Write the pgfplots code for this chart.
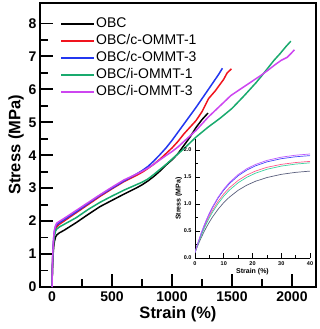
\documentclass[border=0pt]{standalone}
\usepackage{pgfplots}
\pgfplotsset{compat=1.18}
\usepackage{fontspec}
\setmainfont{Liberation Sans}
\definecolor{cblue}{RGB}{35,55,240}
\definecolor{cgreen}{RGB}{25,170,110}
\definecolor{cmag}{RGB}{205,70,240}
\definecolor{cred}{RGB}{240,20,30}
\definecolor{iblack}{RGB}{90,95,125}
\definecolor{ired}{RGB}{255,90,140}
\definecolor{igreen}{RGB}{60,210,160}
\definecolor{iblue}{RGB}{70,70,250}
\definecolor{imag}{RGB}{190,90,255}
\begin{document}
\begin{tikzpicture}
\path[use as bounding box] (-40pt,-42pt) rectangle (279pt,287pt);
\begin{axis}[
  at={(0pt,0pt)}, anchor=south west,
  scale only axis, width=276pt, height=284pt,
  xmin=-100, xmax=2200, ymin=0, ymax=8.62,
  axis line style={line width=1.8pt},
  xtick={0,500,1000,1500,2000},
  minor xtick={250,750,1250,1750},
  ytick={0,1,2,3,4,5,6,7,8},
  minor ytick={0.5,1.5,2.5,3.5,4.5,5.5,6.5,7.5},
  xtick pos=bottom, ytick pos=left,
  tick align=inside,
  major tick length=13pt, minor tick length=8pt,
  every tick/.style={line width=1.8pt, black},
  /pgf/number format/assume math mode=true,
  ticklabel style={font=\bfseries\fontsize{14}{14}\selectfont},
  xticklabel style={yshift=-1pt},
  scaled x ticks=false,
  xticklabel={\pgfmathprintnumber[fixed,precision=0,1000 sep={}]{\tick}},
  xlabel={\bfseries Strain (\%)},
  ylabel={\bfseries Stress (MPa)},
  label style={font=\bfseries\fontsize{16.5}{17}\selectfont},
  xlabel style={yshift=2pt},
  ylabel style={yshift=-2pt},
  legend cell align=left,
  legend style={draw=none, fill=none, at={(0.062,0.962)}, anchor=north west,
    font=\fontsize{14}{14}\selectfont, row sep=1.5pt,
    nodes={inner sep=1pt, text height=10.5pt, text depth=3pt}},
  legend image code/.code={\draw[#1, line width=1.8pt] (0pt,0pt) -- (33pt,0pt);},
  every axis plot/.append style={line width=1.5pt},
]
\addplot[black] coordinates {(0,0) (3,0.47) (6,0.75) (10,1.03) (15,1.25) (20,1.38) (30,1.52) (40,1.58) (60,1.64) (100,1.72) (200,1.95) (300,2.2) (400,2.44) (500,2.63) (600,2.82) (700,3.0) (750,3.1) (800,3.22) (850,3.36) (900,3.52) (950,3.7) (1000,3.86) (1050,4.05) (1100,4.3) (1150,4.55) (1200,4.84) (1250,5.08) (1300,5.28)};
\addlegendentry{OBC}
\addplot[cred] coordinates {(0,0) (3,0.55) (6,0.88) (10,1.19) (15,1.44) (20,1.61) (30,1.76) (40,1.83) (60,1.9) (100,2.0) (200,2.25) (300,2.5) (400,2.75) (500,2.98) (600,3.2) (700,3.38) (750,3.48) (800,3.6) (850,3.73) (900,3.88) (950,4.05) (1000,4.22) (1050,4.42) (1100,4.65) (1150,4.85) (1200,5.05) (1250,5.32) (1305,5.72) (1360,5.95) (1430,6.3) (1460,6.5) (1495,6.62)};
\addlegendentry{OBC/c-OMMT-1}
\addplot[cblue] coordinates {(0,0) (3,0.57) (6,0.93) (10,1.26) (15,1.52) (20,1.69) (30,1.84) (40,1.89) (60,1.95) (100,2.04) (200,2.28) (300,2.53) (400,2.78) (500,3.0) (600,3.22) (700,3.42) (750,3.53) (800,3.66) (850,3.83) (900,4.02) (950,4.22) (1000,4.45) (1050,4.7) (1100,4.95) (1200,5.45) (1300,5.98) (1390,6.46) (1420,6.64)};
\addlegendentry{OBC/c-OMMT-3}
\addplot[cgreen] coordinates {(0,0) (3,0.52) (6,0.84) (10,1.14) (15,1.39) (20,1.55) (30,1.70) (40,1.76) (60,1.82) (100,1.9) (200,2.1) (300,2.35) (400,2.57) (500,2.76) (600,2.94) (700,3.1) (750,3.18) (800,3.28) (850,3.42) (900,3.57) (950,3.72) (1000,3.88) (1050,4.04) (1100,4.2) (1200,4.55) (1300,4.85) (1400,5.12) (1450,5.27) (1500,5.42) (1600,5.8) (1700,6.2) (1750,6.42) (1800,6.65) (1850,6.88) (1900,7.08) (1950,7.3) (1990,7.46)};
\addlegendentry{OBC/i-OMMT-1}
\addplot[cmag] coordinates {(0,0) (3,0.58) (6,0.94) (10,1.28) (15,1.55) (20,1.73) (30,1.87) (40,1.94) (60,1.99) (100,2.08) (200,2.32) (300,2.56) (400,2.8) (500,3.03) (600,3.25) (700,3.42) (750,3.51) (800,3.61) (850,3.73) (900,3.86) (950,3.99) (1000,4.11) (1050,4.25) (1100,4.42) (1200,4.75) (1300,5.15) (1430,5.6) (1490,5.81) (1600,6.08) (1740,6.42) (1800,6.58) (1860,6.75) (1910,6.88) (1960,6.97) (1990,7.08) (2020,7.2)};
\addlegendentry{OBC/i-OMMT-3}
\end{axis}
\begin{axis}[
  at={(155pt,29pt)}, anchor=south west,
  scale only axis, width=115pt, height=118.8pt,
  xmin=0, xmax=40, ymin=0, ymax=2.2,
  axis x line*=bottom, axis y line*=left,
  axis line style={line width=0.8pt, -},
  xtick={0,10,20,30,40}, minor xtick={5,15,25,35},
  ytick={0,0.5,1,1.5,2}, minor ytick={0.25,0.75,1.25,1.75},
  tick align=inside,
  major tick length=4.5pt, minor tick length=2.5pt,
  every tick/.style={line width=0.7pt, black},
  /pgf/number format/assume math mode=true,
  ticklabel style={font=\bfseries\fontsize{5.5}{6}\selectfont},
  yticklabel style={/pgf/number format/.cd, fixed, fixed zerofill, precision=1},
  xlabel={\bfseries Strain (\%)},
  ylabel={\bfseries Stress (MPa)},
  label style={font=\bfseries\fontsize{7}{7}\selectfont},
  xlabel style={yshift=4pt},
  ylabel style={yshift=-5pt},
  every axis plot/.append style={line width=0.7pt},
]
\addplot[iblack] coordinates {(0,0.1) (1,0.235) (2,0.358) (3,0.470) (4,0.573) (5,0.666) (6,0.752) (8,0.901) (10,1.026) (12,1.129) (15,1.254) (18,1.348) (21,1.420) (25,1.490) (30,1.549) (35,1.586) (40,1.609)};
\addplot[ired] coordinates {(0,0.1) (1,0.264) (2,0.412) (3,0.546) (4,0.667) (5,0.777) (6,0.876) (8,1.047) (10,1.187) (12,1.302) (15,1.436) (18,1.536) (21,1.609) (25,1.679) (30,1.734) (35,1.768) (40,1.789)};
\addplot[iblue] coordinates {(0,0.1) (1,0.274) (2,0.432) (3,0.574) (4,0.703) (5,0.820) (6,0.926) (8,1.108) (10,1.257) (12,1.379) (15,1.522) (18,1.628) (21,1.706) (25,1.780) (30,1.839) (35,1.875) (40,1.896)};
\addplot[igreen] coordinates {(0,0.1) (1,0.255) (2,0.395) (3,0.522) (4,0.639) (5,0.744) (6,0.840) (8,1.006) (10,1.144) (12,1.258) (15,1.393) (18,1.494) (21,1.570) (25,1.643) (30,1.702) (35,1.739) (40,1.762)};
\addplot[imag] coordinates {(0,0.1) (1,0.277) (2,0.437) (3,0.582) (4,0.713) (5,0.832) (6,0.939) (8,1.124) (10,1.276) (12,1.400) (15,1.545) (18,1.653) (21,1.732) (25,1.807) (30,1.867) (35,1.904) (40,1.926)};
\end{axis}
\end{tikzpicture}
\end{document}
